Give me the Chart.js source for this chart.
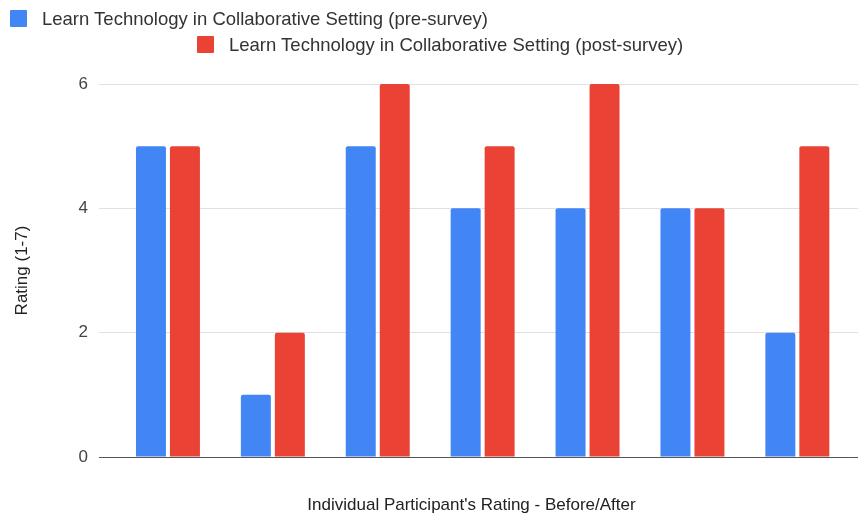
<!DOCTYPE html>
<html>
<head>
<meta charset="utf-8">
<script src="https://cdn.jsdelivr.net/npm/chart.js@4/dist/chart.umd.min.js"></script>
<style>
  html, body { margin: 0; padding: 0; background: #fff; }
  #wrap { position: relative; width: 858px; height: 516px; font-family: "Liberation Sans", Arial, sans-serif; }
  #chart { position: absolute; left: 0; top: 0; }
  .leg { position: absolute; display: flex; align-items: center; font-size: 18.5px; line-height: 17px; color: #333; white-space: nowrap; }
  .leg i { display: inline-block; width: 17px; height: 17px; border-radius: 1px; margin-right: 15px; }
  #xtitle { position: absolute; left: 471.5px; top: 496px; transform: translateX(-50%); font-size: 17px; line-height: 18px; color: #222; white-space: nowrap; }
</style>
</head>
<body>
<div id="wrap">
  <canvas id="chart" width="858" height="516"></canvas>
  <div id="legend"></div>
  <div id="xtitle"></div>
</div>
<script>
// Ratings per participant, before and after the session
const participants = ['1', '2', '3', '4', '5', '6', '7'];
const preSurvey  = [5, 1, 5, 4, 4, 4, 2];
const postSurvey = [5, 2, 6, 5, 6, 4, 5];
const yTicks = [0, 2, 4, 6];

const seriesLabels = [
  'Learn Technology in Collaborative Setting (pre-survey)',
  'Learn Technology in Collaborative Setting (post-survey)'
];
const seriesColors = ['#4285F4', '#EA4335'];
const xTitle = "Individual Participant's Rating - Before/After";
const yTitle = 'Rating (1-7)';

const gridColor = '#e0e0e0';
const baseColor = '#555555';
const FONT = '"Liberation Sans", Arial, sans-serif';

// Legend laid out in two staggered rows
const legendPos = [[10, 10], [197, 36]];
const legendEl = document.getElementById('legend');
seriesLabels.forEach((label, i) => {
  const item = document.createElement('div');
  item.className = 'leg';
  item.style.left = legendPos[i][0] + 'px';
  item.style.top = legendPos[i][1] + 'px';
  const sw = document.createElement('i');
  sw.style.background = seriesColors[i];
  const tx = document.createElement('span');
  tx.textContent = label;
  item.appendChild(sw);
  item.appendChild(tx);
  legendEl.appendChild(item);
});
document.getElementById('xtitle').textContent = xTitle;

// Carry the horizontal grid lines across to the right edge of the canvas
const extendGrid = {
  id: 'extendGrid',
  beforeDatasetsDraw(chart) {
    const { ctx, chartArea, scales: { y }, width } = chart;
    ctx.save();
    ctx.lineWidth = 1;
    y.ticks.forEach(t => {
      const py = Math.round(y.getPixelForValue(t.value) - 0.5) + 0.5;
      ctx.strokeStyle = t.value === 0 ? baseColor : gridColor;
      ctx.beginPath();
      ctx.moveTo(chartArea.right, py);
      ctx.lineTo(width, py);
      ctx.stroke();
    });
    ctx.restore();
  }
};

new Chart(document.getElementById('chart'), {
  type: 'bar',
  data: {
    labels: participants,
    datasets: [
      { label: seriesLabels[0], data: preSurvey,  backgroundColor: seriesColors[0] },
      { label: seriesLabels[1], data: postSurvey, backgroundColor: seriesColors[1] }
    ]
  },
  options: {
    responsive: false,
    animation: false,
    devicePixelRatio: 1,
    layout: { padding: { left: 0, right: 8.2, top: 84, bottom: 59 } },
    datasets: {
      bar: {
        barPercentage: 0.882,
        categoryPercentage: 0.648,
        borderRadius: 2,
        borderSkipped: 'start'
      }
    },
    plugins: {
      legend: { display: false },
      tooltip: { enabled: false }
    },
    scales: {
      x: { display: false },
      y: {
        min: 0,
        max: 6,
        afterBuildTicks: scale => { scale.ticks = yTicks.map(v => ({ value: v })); },
        afterFit: scale => { scale.width = 115.5; },
        border: { display: false },
        grid: {
          color: c => (c.tick && c.tick.value === 0 ? baseColor : gridColor),
          lineWidth: 1,
          drawTicks: true,
          tickLength: 16.5,
          tickColor: c => (c.tick && c.tick.value === 0 ? baseColor : gridColor)
        },
        ticks: {
          padding: 11,
          color: '#444',
          font: { family: FONT, size: 17 }
        },
        title: {
          display: true,
          text: yTitle,
          color: '#222',
          font: { family: FONT, size: 17, lineHeight: 1.2 },
          padding: { top: 12, bottom: 0 }
        }
      }
    }
  },
  plugins: [extendGrid]
});
</script>
</body>
</html>
